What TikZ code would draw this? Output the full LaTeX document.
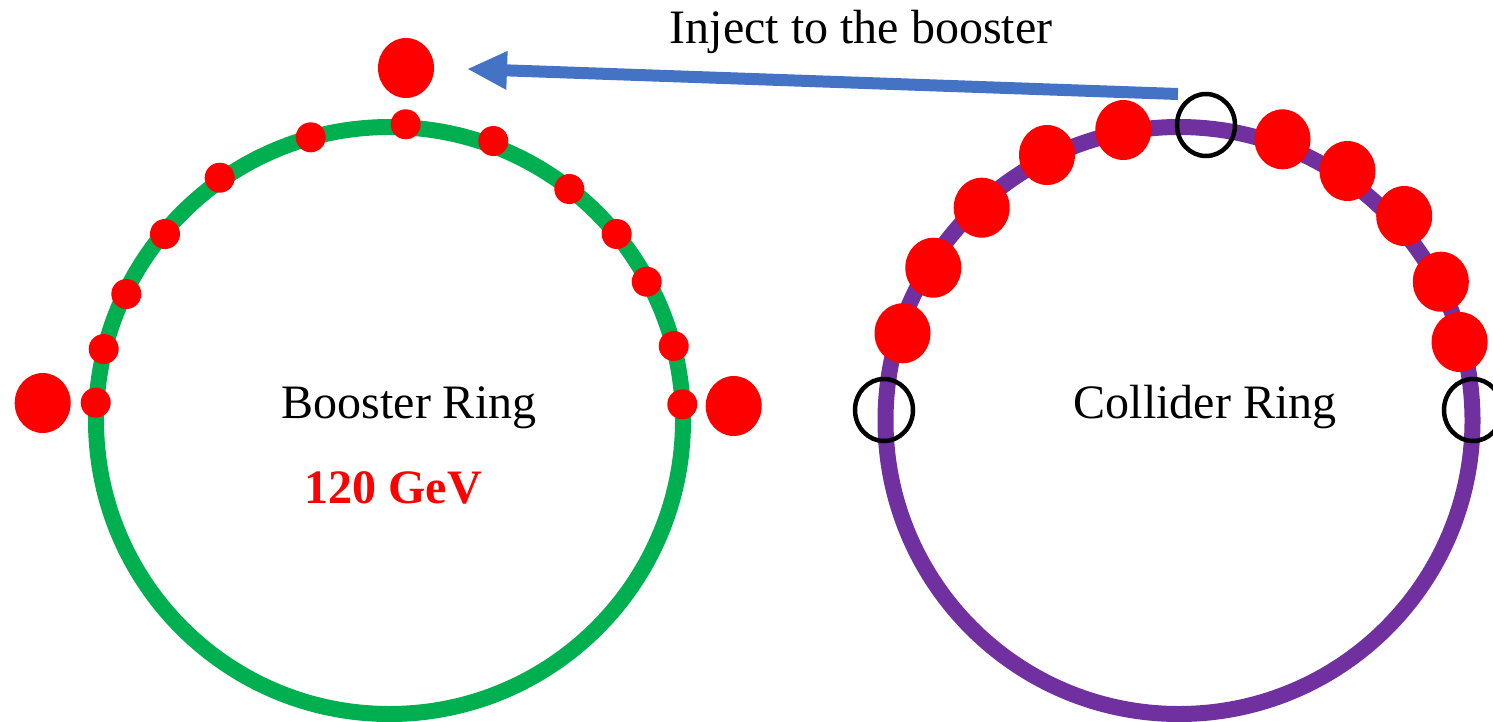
\documentclass[tikz,border=0pt]{standalone}
\usepackage{fontspec}
\setmainfont{Liberation Serif}
\usetikzlibrary{arrows.meta,shapes.geometric}
\definecolor{ringgreen}{HTML}{00B050}
\definecolor{ringpurple}{HTML}{7030A0}
\definecolor{beamred}{HTML}{FF0000}
\definecolor{injblue}{HTML}{4472C4}
\begin{document}
\begin{tikzpicture}[x=1pt,y=-1pt,
  ring/.style={circle, inner sep=0pt, minimum size=587pt, line width=16pt},
  bunch/.style={ellipse, fill=beamred, inner sep=0pt, minimum width=30pt, minimum height=30pt},
  bigbunch/.style={ellipse, fill=beamred, inner sep=0pt, minimum width=56pt, minimum height=60pt},
  marker/.style={ellipse, draw=black, line width=4.5pt, inner sep=0pt, minimum width=58pt, minimum height=62pt},
  txt/.style={font=\fontsize{48}{58}\selectfont, inner sep=0pt, anchor=base},
  inject/.style={draw=injblue, line width=12pt, -{Triangle[length=39pt,width=39pt,line width=0pt]}}]
\useasboundingbox (0,0) rectangle (1493,721);
\clip (0,0) rectangle (1493,721);

% rings
\node[ring, draw=ringgreen] (booster) at (389.5,420.5) {};
\node[ring, draw=ringpurple] (collider) at (1179,420.5) {};

% bunches on the booster ring
\node[bunch] (b1)  at (405.7,124.3) {};
\node[bunch] (b2)  at (310.7,137.3) {};
\node[bunch] (b3)  at (219.7,177.7) {};
\node[bunch] (b4)  at (165,234) {};
\node[bunch] (b5)  at (126.3,294) {};
\node[bunch] (b6)  at (103.7,349) {};
\node[bunch] (b7)  at (95.7,402.7) {};
\node[bunch] (b8)  at (493.3,141) {};
\node[bunch] (b9)  at (569.3,189) {};
\node[bunch] (b10) at (616.7,234) {};
\node[bunch] (b11) at (646.7,281.7) {};
\node[bunch] (b12) at (673.7,346) {};
\node[bunch] (b13) at (682.3,404.3) {};

% injected bunches beside the booster
\node[bigbunch] (inj1) at (406,68) {};
\node[bigbunch] (inj2) at (42.7,403) {};
\node[bigbunch] (inj3) at (733.7,406) {};

% bunches on the collider ring
\node[bigbunch] (c1)  at (1123.3,130) {};
\node[bigbunch] (c2)  at (1047,155) {};
\node[bigbunch] (c3)  at (981.7,207.7) {};
\node[bigbunch] (c4)  at (933.3,267.7) {};
\node[bigbunch] (c5)  at (902.5,333.3) {};
\node[bigbunch] (c6)  at (1282.5,139.3) {};
\node[bigbunch] (c7)  at (1347.5,171) {};
\node[bigbunch] (c8)  at (1404.2,216) {};
\node[bigbunch] (c9)  at (1440.8,281.7) {};
\node[bigbunch] (c10) at (1459.6,342) {};

% empty slots on the collider ring
\node[marker] (m1) at (1206,125) {};
\node[marker] (m2) at (884,410) {};
\node[marker] (m3) at (1473,410) {};

% labels
\node[txt] (tb) at (409,418) {Booster Ring};
\node[txt, text=beamred, font=\fontsize{48}{58}\selectfont\bfseries] (te) at (393,503) {120 GeV};
\node[txt] (tc) at (1205,418) {Collider Ring};
\node[txt] (ti) at (861,43) {Inject to the booster};

% injection arrow
\coordinate (injsrc) at (1178,94);
\coordinate (injdst) at (468,69);
\draw[inject] (injsrc) -- (injdst);
\end{tikzpicture}
\end{document}
